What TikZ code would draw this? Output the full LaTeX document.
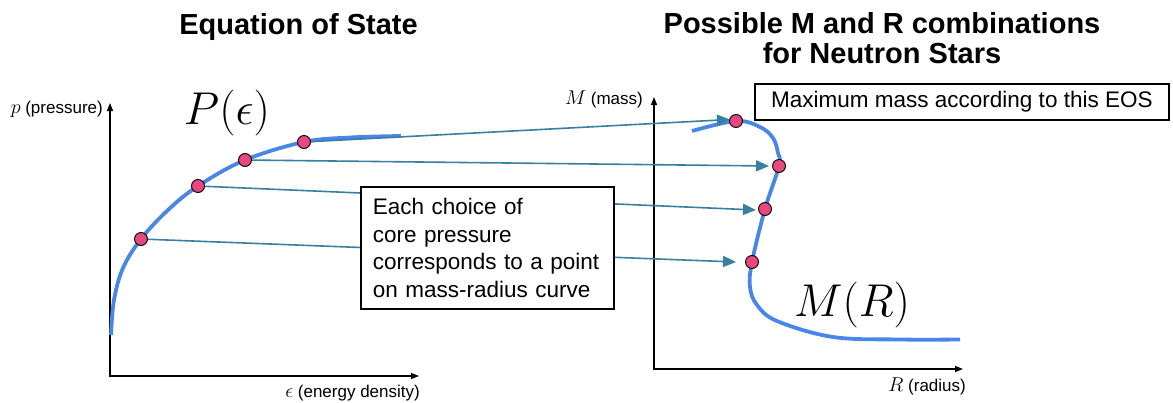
\RequirePackage{fix-cm}
\documentclass[tikz,border=0pt]{standalone}
\usepackage{fontspec}
\setmainfont{Liberation Sans}
\usetikzlibrary{arrows.meta}
\definecolor{curveblue}{RGB}{74,134,232}
\definecolor{arrowteal}{RGB}{56,128,160}
\definecolor{dotpink}{RGB}{232,72,128}
\newcommand{\mathvar}[1]{{\fontsize{20}{20}\selectfont$#1$}}
\begin{document}
\begin{tikzpicture}[x=1pt,y=-1pt,
  axis/.style={line width=1.4pt,{Triangle[length=8pt,width=6pt]}-{Triangle[length=8pt,width=6pt]}},
  eos/.style={curveblue,line width=3.8pt},
  dot/.style={circle,draw=black,line width=0.9pt,fill=dotpink,minimum size=13pt,inner sep=0pt},
  link/.style={arrowteal,line width=1.6pt,-{Triangle[length=13pt,width=11pt]}},
  title/.style={font=\fontsize{29}{30}\selectfont\bfseries,inner sep=0pt},
  axlabel/.style={font=\fontsize{17}{20}\selectfont,inner sep=0pt},
  textbox/.style={draw=black,line width=1.8pt,fill=white,font=\fontsize{22.5}{27.7}\selectfont,align=left},
  biglabel/.style={font=\fontsize{46}{46}\selectfont,inner sep=0pt}
]
\useasboundingbox (0,0) rectangle (1173,402);

% titles
\node[title,anchor=base] (t1title) at (298.5,34.5) {Equation of State};
\node[title,anchor=base] (t2title) at (882,33) {Possible M and R combinations};
\node[title,anchor=base] (t3title) at (882,63) {for Neutron Stars};

% left axes
\coordinate (o1) at (110,376);
\coordinate (y1) at (110,103);
\coordinate (x1) at (419,376);
\draw[axis] (y1) -- (o1) -- (x1);
\node[axlabel,anchor=base east] (plab) at (103,113) {\mathvar{p} (pressure)};
\node[axlabel,anchor=base east] (elab) at (420,397) {\mathvar{\epsilon} (energy density)};

% right axes
\coordinate (o2) at (654,369);
\coordinate (y2) at (654,97);
\coordinate (x2) at (963,369);
\draw[axis] (y2) -- (o2) -- (x2);
\node[axlabel,anchor=base east] (mlab) at (643,104) {\mathvar{M} (mass)};
\node[axlabel,anchor=base east] (rlab) at (966,391) {\mathvar{R} (radius)};

% curves
\draw[eos] plot[smooth,tension=0.6] coordinates {(111,335) (114,300) (123,268) (141,239) (168,210) (198,186) (245,160) (304,142) (350,137.5) (401,136)};
\draw[eos] plot[smooth,tension=0.6] coordinates {(692,131) (736,121) (760,127) (773,138) (778,153) (779,166) (765,209) (752,262) (750,287) (757,305) (777,321) (833,337) (900,339.5) (960,339.5)};

\node[biglabel] (plabel) at (227,113) {$P(\epsilon)$};
\node[biglabel] (mrlabel) at (852,305) {$M(R)$};

% tips
\coordinate (tip1) at (730,119.5);
\coordinate (tip2) at (769,166);
\coordinate (tip3) at (756,210);
\coordinate (tip4) at (736,262);

% dots
\node[dot] (l1) at (304,142) {};
\node[dot] (l2) at (245,160) {};
\node[dot] (l3) at (198,186) {};
\node[dot] (l4) at (141,239) {};

\draw[link] (l1) -- (tip1);
\draw[link] (l2) -- (tip2);
\draw[link] (l3) -- (tip3);
\draw[link] (l4) -- (tip4);

\node[dot] (r1) at (736,121) {};
\node[dot] (r2) at (779,166) {};
\node[dot] (r3) at (765,209) {};
\node[dot] (r4) at (752,262) {};

% boxes
\node[textbox,anchor=north west,text width=229pt,inner xsep=12pt,minimum height=122pt] (note) at (360,186)
  {Each choice of\\core pressure\\corresponds to a point\\on mass-radius curve};
\node[draw=black,line width=1.8pt,fill=white,font=\fontsize{22.5}{27}\selectfont,anchor=north west,minimum width=414pt,minimum height=36pt,inner sep=0pt] (maxbox) at (754,83)
  {Maximum mass according to this EOS};
\end{tikzpicture}
\end{document}
